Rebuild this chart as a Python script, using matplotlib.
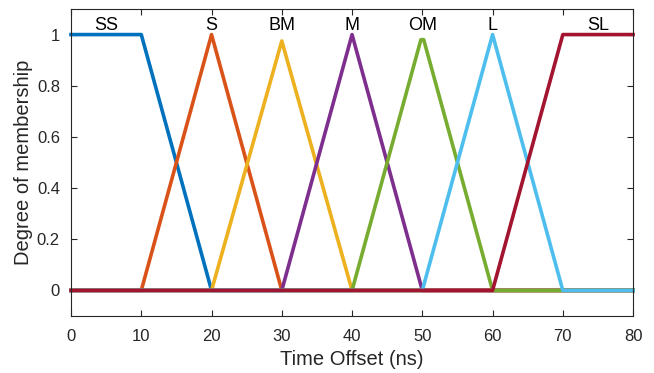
import matplotlib
matplotlib.use("Agg")
import matplotlib.pyplot as plt

plt.rcParams['font.family'] = ['Liberation Sans', 'DejaVu Sans']

# Membership function breakpoints (time offset in ns) and degrees
labels = ["SS", "S", "BM", "M", "OM", "L", "SL"]
mf_x = [
    [0, 10, 20, 80],
    [0, 10, 20, 30, 80],
    [0, 20, 30, 40, 80],
    [0, 30, 40, 50, 80],
    [0, 40, 49.8, 50.2, 60, 80],
    [0, 50, 60, 70, 80],
    [0, 60, 70, 80],
]
mf_y = [
    [1, 1, 0, 0],
    [0, 0, 1, 0, 0],
    [0, 0, 0.975, 0, 0],
    [0, 0, 1, 0, 0],
    [0, 0, 0.98, 0.98, 0, 0],
    [0, 0, 1, 0, 0],
    [0, 0, 1, 1],
]
label_x = [5, 20, 30, 40, 50, 60, 75]
colors = ["#0072BD", "#D95319", "#EDB120", "#7E2F8E", "#77AC30", "#4DBEEE", "#A2142F"]
x_ticks = [0, 10, 20, 30, 40, 50, 60, 70, 80]
y_ticks = [0, 0.2, 0.4, 0.6, 0.8, 1]

fig = plt.figure(figsize=(6.54, 3.73), dpi=100)
ax = fig.add_axes([0.1086, 0.1528, 0.8594, 0.8231])

for xs, ys, c in zip(mf_x, mf_y, colors):
    ax.plot(xs, ys, color=c, linewidth=2.6, solid_joinstyle='round', clip_on=False)

for name, lx in zip(labels, label_x):
    ax.text(lx, 1.035, name, ha='center', va='center', fontsize=13, color='black')

ax.set_xlim(0, 80)
ax.set_ylim(-0.1, 1.1)
ax.set_xticks(x_ticks)
ax.set_yticks(y_ticks)
ax.set_yticklabels(["0", "0.2", "0.4", "0.6", "0.8", "1"])
ax.tick_params(direction='in', top=True, right=True, length=4, width=0.8,
               labelsize=12, colors='#262626', pad=8)
ax.tick_params(axis='x', pad=9)
for sp in ax.spines.values():
    sp.set_color('#262626')
    sp.set_linewidth(0.8)

ax.set_xlabel("Time Offset (ns)", fontsize=14.5, color='#262626', labelpad=5)
ax.set_ylabel("Degree of membership", fontsize=14.5, color='#262626', labelpad=3)

fig.savefig("out.png", dpi=100)
